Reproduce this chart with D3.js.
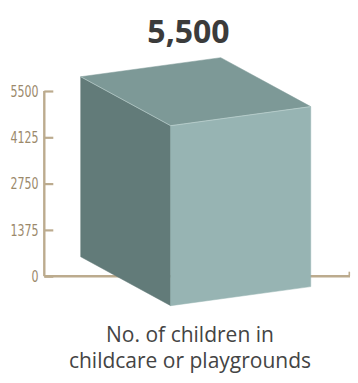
<!DOCTYPE html>
<html>
<head>
<meta charset="utf-8">
<script src="https://cdn.jsdelivr.net/npm/d3@7"></script>
<style>
  html, body { margin: 0; padding: 0; background: #ffffff; }
  svg { display: block; }
</style>
</head>
<body>
<svg id="chart" width="358" height="383"></svg>
<script>
// ---- data ----
const categories = ["No. of children in childcare or playgrounds"];
const values = [5500];
const tickValues = [0, 1375, 2750, 4125, 5500];
const labelLines = ["No. of children in", "childcare or playgrounds"];

// ---- layout ----
const W = 358, H = 383;
const svg = d3.select("#chart");

const axisX = 44.3;
const y = d3.scaleLinear().domain([0, 5500]).range([276.2, 91]);
const size = d3.scaleLinear().domain([0, 5500]).range([0, 180]);

const axisColor = "#bcab8e";
const labelColor = "#9b896b";

// horizontal baseline (behind cube)
svg.append("line")
  .attr("x1", axisX).attr("x2", 350)
  .attr("y1", y(0)).attr("y2", y(0))
  .attr("stroke", axisColor).attr("stroke-width", 2.4);
svg.append("line")
  .attr("x1", 349.3).attr("x2", 349.3)
  .attr("y1", y(0)).attr("y2", y(0) - 4.5)
  .attr("stroke", axisColor).attr("stroke-width", 1.6);

// vertical axis
const yAxis = d3.axisRight(y).tickValues(tickValues).tickSize(9).tickFormat("");
const gAxis = svg.append("g").attr("transform", `translate(${axisX},0)`).call(yAxis);
gAxis.select(".domain")
  .attr("d", `M0,${y(0)}V${y(5500)}`)
  .attr("stroke", axisColor).attr("stroke-width", 2.4);
gAxis.selectAll(".tick line").attr("stroke", axisColor).attr("stroke-width", 2.2);

// tick labels (condensed look)
svg.append("g").selectAll("text").data(tickValues).join("text")
  .attr("x", 38.5)
  .attr("y", d => y(d) + 0.8)
  .attr("text-anchor", "end")
  .attr("dominant-baseline", "central")
  .attr("font-family", "'DejaVu Sans Condensed', 'DejaVu Sans', sans-serif")
  .attr("font-size", 15.5)
  .attr("fill", labelColor)
  .attr("textLength", d => String(d).length * 7.0)
  .attr("lengthAdjust", "spacingAndGlyphs")
  .text(d => d);

// ---- cube ----
const anchor = [170.7, 305.7]; // front-bottom-left corner
values.forEach(v => {
  const s = size(v);
  const wv = [0.778 * s, -0.106 * s];
  const dv = [-0.5 * s, -0.272 * s];
  const hv = [0, -s];
  const add = (...ps) => ps.reduce((a, p) => [a[0] + p[0], a[1] + p[1]], [0, 0]);
  const FBL = anchor;
  const FBR = add(anchor, wv);
  const FTL = add(anchor, hv);
  const FTR = add(anchor, wv, hv);
  const BBL = add(anchor, dv);
  const BTL = add(anchor, dv, hv);
  const BTR = add(anchor, dv, hv, wv);
  const line = d3.line();
  const faces = [
    { pts: [FBL, FTL, BTL, BBL], fill: "#627b79" },   // left
    { pts: [FTL, FTR, BTR, BTL], fill: "#7d9997" },   // top
    { pts: [FBL, FBR, FTR, FTL], fill: "#97b4b3" }    // front
  ];
  svg.append("g").selectAll("path").data(faces).join("path")
    .attr("d", f => line(f.pts) + "Z")
    .attr("fill", f => f.fill)
    .attr("stroke", f => f.fill)
    .attr("stroke-width", 0.5)
    .attr("stroke-linejoin", "round");
  svg.append("path")
    .attr("d", line([BTL, FTL, FTR]))
    .attr("fill", "none")
    .attr("stroke", "#c9dbd9")
    .attr("stroke-width", 0.7)
    .attr("opacity", 0.8);
});

// ---- title ----
svg.append("text")
  .attr("x", 188.5).attr("y", 43.3)
  .attr("text-anchor", "middle")
  .attr("font-family", "'Open Sans', sans-serif")
  .attr("font-weight", 700)
  .attr("font-size", 32)
  .attr("fill", "#3b3b3b")
  .text(d3.format(",")(values[0]));

// ---- category label ----
svg.append("g").selectAll("text").data(labelLines).join("text")
  .attr("x", 190)
  .attr("y", (d, i) => 341.7 + i * 26.4)
  .attr("text-anchor", "middle")
  .attr("font-family", "'Open Sans', sans-serif")
  .attr("font-size", 21)
  .attr("fill", "#444444")
  .text(d => d);
</script>
</body>
</html>
